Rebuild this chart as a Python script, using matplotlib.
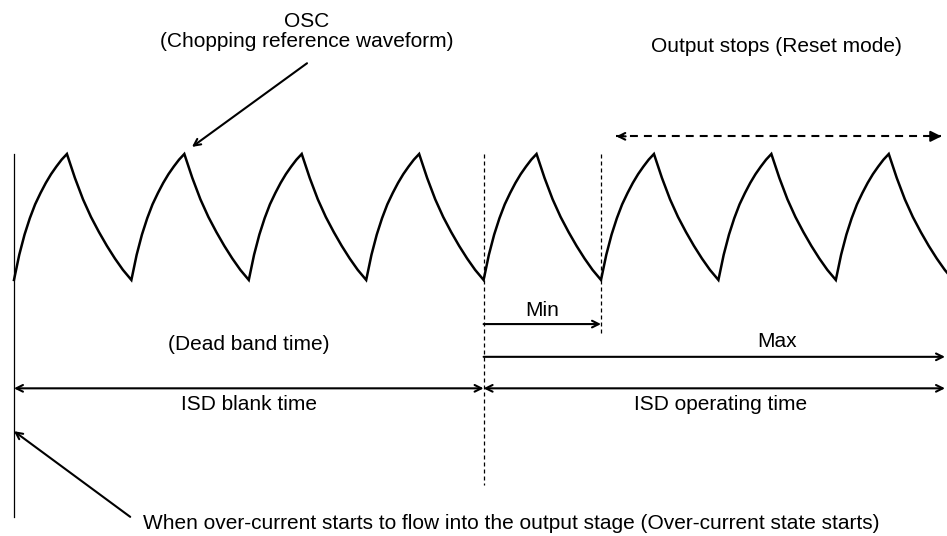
import matplotlib
matplotlib.use('Agg')
import matplotlib.pyplot as plt
import numpy as np

plt.rcParams['font.family'] = ['Liberation Sans', 'DejaVu Sans']

# one OSC cycle, time as a fraction of the period, level as a fraction of the peak
rise_t = [0.0, 0.045, 0.090, 0.135, 0.180, 0.226, 0.271, 0.316, 0.361, 0.406, 0.451]
rise_v = [0.0, 0.20, 0.36, 0.49, 0.60, 0.69, 0.77, 0.84, 0.90, 0.955, 1.0]
fall_t = [0.451, 0.519, 0.588, 0.656, 0.724, 0.792, 0.860, 0.928, 1.0]
fall_v = [1.0, 0.81, 0.64, 0.50, 0.38, 0.27, 0.17, 0.08, 0.0]
n_cycles = 9

blank_end = 4.0      # ISD blank time ends (periods)
min_end = 5.0        # shortest operating time
max_end = 7.93       # longest operating time
reset_span = [5.13, 7.90]

fs = 15

fig = plt.figure(figsize=(9.47, 5.36), dpi=100)
ax = fig.add_axes([0, 0, 1, 1])
ax.set_xlim(-0.119, 7.947)
ax.set_ylim(-2.032, 2.222)
ax.axis('off')

# OSC waveform
cyc_t = np.array(rise_t + fall_t[1:])
cyc_v = np.array(rise_v + fall_v[1:])
xs = np.concatenate([cyc_t + k for k in range(n_cycles)])
ys = np.concatenate([cyc_v for k in range(n_cycles)])
ax.plot(xs, ys, color='black', lw=1.8, solid_joinstyle='miter')

# over-current start line and markers
ax.plot([0, 0], [1.0, -1.88], color='black', lw=0.9)
ax.plot([blank_end, blank_end], [1.0, -1.63], color='black', lw=0.9, ls=(0, (3.2, 2.4)))
ax.plot([min_end, min_end], [1.0, -0.44], color='black', lw=0.9, ls=(0, (3.2, 2.4)))

arr = dict(arrowstyle='->', color='black', lw=1.5, shrinkA=0, shrinkB=0,
           mutation_scale=12)
darr = dict(arrowstyle='<->', color='black', lw=1.5, shrinkA=0, shrinkB=0,
            mutation_scale=12)

# Min / Max
ax.annotate('', xy=(min_end, -0.35), xytext=(blank_end, -0.35), arrowprops=arr)
ax.text((blank_end + min_end) / 2, -0.24, 'Min', ha='center', va='center', fontsize=fs)
ax.annotate('', xy=(max_end, -0.61), xytext=(blank_end, -0.61), arrowprops=arr)
ax.text(6.5, -0.49, 'Max', ha='center', va='center', fontsize=fs)
ax.text(2.0, -0.51, '(Dead band time)', ha='center', va='center', fontsize=fs)

# ISD blank / operating time
ax.annotate('', xy=(0, -0.86), xytext=(blank_end, -0.86), arrowprops=darr)
ax.annotate('', xy=(max_end, -0.86), xytext=(blank_end, -0.86), arrowprops=darr)
ax.text(2.0, -0.99, 'ISD blank time', ha='center', va='center', fontsize=fs)
ax.text(6.02, -0.99, 'ISD operating time', ha='center', va='center', fontsize=fs)

# reset mode span: dashed line, open head on the left, filled head on the right
ax.plot(reset_span, [1.14, 1.14], color='black', lw=1.5, ls=(0, (3.8, 2.9)))
ax.annotate('', xy=(reset_span[0], 1.14), xytext=(reset_span[0] + 0.08, 1.14),
            arrowprops=dict(arrowstyle='->', color='black', lw=1.5, shrinkA=0,
                            shrinkB=0, mutation_scale=12))
ax.annotate('', xy=(reset_span[1], 1.14), xytext=(reset_span[1] - 0.08, 1.14),
            arrowprops=dict(arrowstyle='-|>', color='black', lw=1.5, shrinkA=0,
                            shrinkB=0, mutation_scale=16))
ax.text(6.49, 1.85, 'Output stops (Reset mode)', ha='center', va='center', fontsize=fs)

# OSC label
ax.text(2.496, 1.97, 'OSC\n(Chopping reference waveform)', ha='center', va='center',
        fontsize=fs, linespacing=1.05)
ax.annotate('', xy=(1.516, 1.056), xytext=(2.496, 1.72),
            arrowprops=dict(arrowstyle='->', color='black', lw=1.5, shrinkA=0,
                            shrinkB=0, mutation_scale=12))

# over-current start label
ax.annotate('', xy=(0.0, -1.2), xytext=(0.99, -1.88),
            arrowprops=dict(arrowstyle='->', color='black', lw=1.5, shrinkA=0,
                            shrinkB=0, mutation_scale=12))
ax.text(1.1, -1.93, 'When over-current starts to flow into the output stage (Over-current state starts)',
        ha='left', va='center', fontsize=fs)

fig.savefig('out.png', dpi=100)
